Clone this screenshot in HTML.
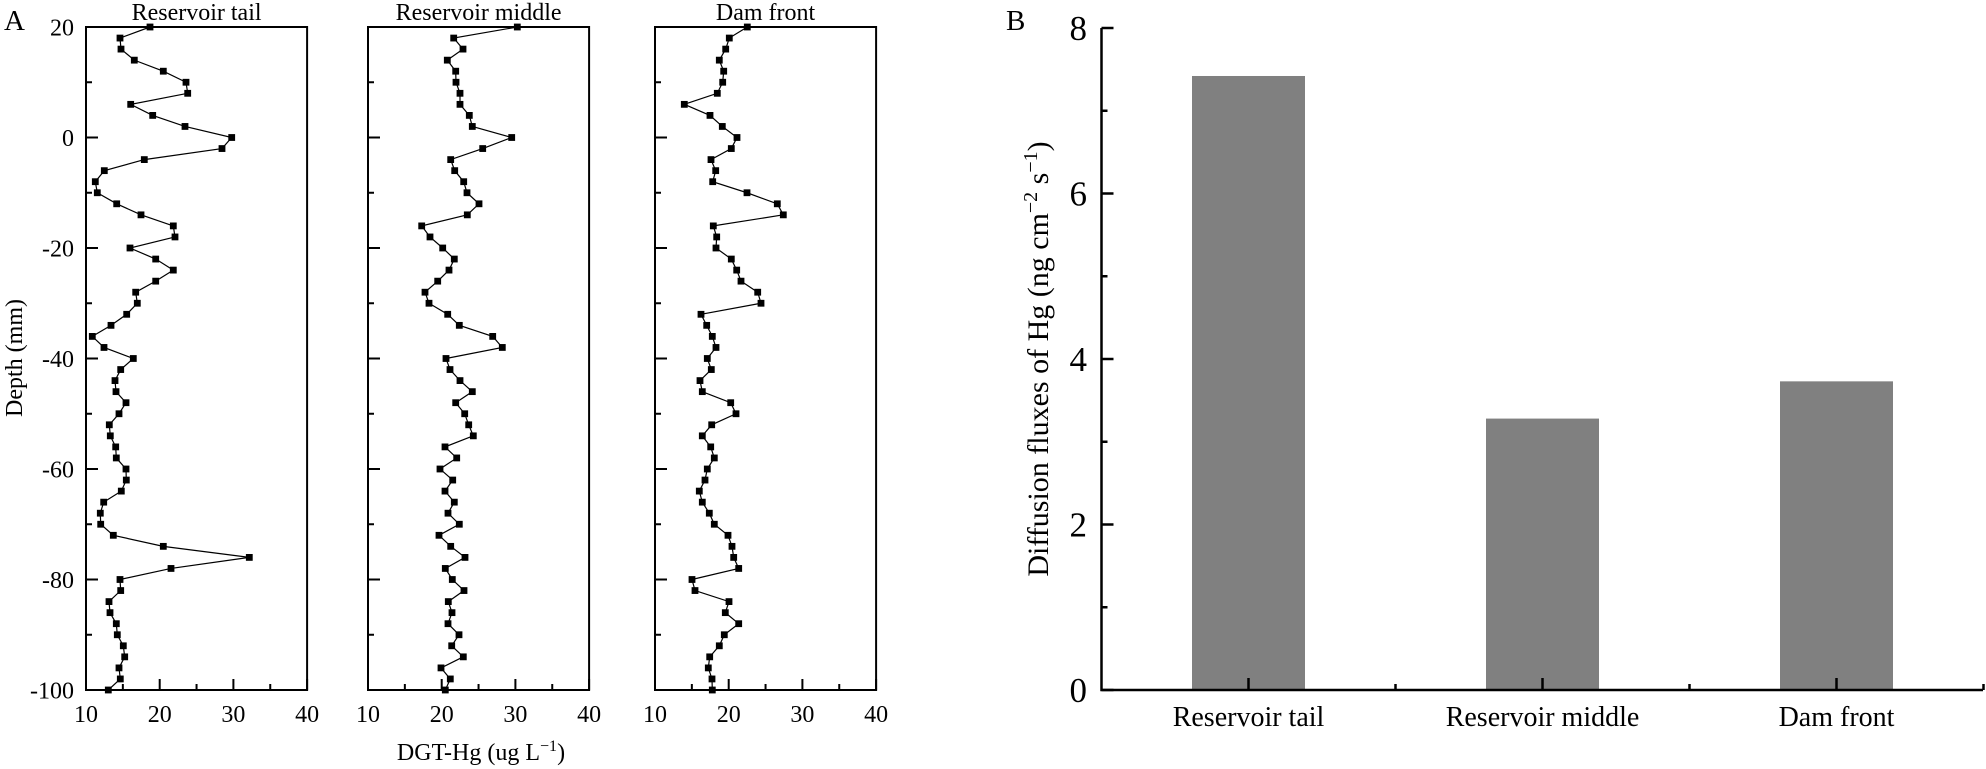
<!DOCTYPE html>
<html><head><meta charset="utf-8"><style>
html,body{margin:0;padding:0;background:#fff;}
svg{display:block;font-family:"Liberation Serif",serif;}
</style></head><body>
<svg id="s" width="1986" height="769" viewBox="0 0 1986 769" xmlns="http://www.w3.org/2000/svg">
<text x="4" y="30" font-size="29">A</text>
<text x="1006" y="30" font-size="29">B</text>
<text transform="translate(22,358) rotate(-90)" text-anchor="middle" font-size="24">Depth (mm)</text>
<text x="481" y="760" text-anchor="middle" font-size="24">DGT-Hg (ug L<tspan font-size="16" dy="-9">−1</tspan><tspan dy="9">)</tspan></text>
<g id="A"></g>
<g id="B"></g>
<text transform="translate(1048,359) rotate(-90)" text-anchor="middle" font-size="30">Diffusion fluxes of Hg (ng cm<tspan font-size="20" dy="-11">−2</tspan><tspan dy="11"> s</tspan><tspan font-size="20" dy="-11">−1</tspan><tspan dy="11">)</tspan></text>
</svg>
<script>
(function(){
var NS="http://www.w3.org/2000/svg";
function el(p,t,a,txt){var e=document.createElementNS(NS,t);for(var k in a)e.setAttribute(k,a[k]);if(txt!==undefined)e.textContent=txt;p.appendChild(e);return e;}
var GA=document.getElementById('A');
var data=[
[150,120,121,134.3,163.3,186,187.7,130.7,152.7,185,231.7,222,144.3,104.3,95.3,97.3,116.7,141,173.3,175,130,155.7,173.3,155.7,135.7,137.3,126.7,111,92.3,104,133.3,120.7,115,116,126,119,109.3,110.3,115.7,116.3,126,126.3,121.3,103.7,100.3,100.7,113.3,163.3,249.3,171,120,120.7,109,110,116.3,117.3,123.3,124.7,119,120.3,108.3],
[517.3,453.7,463,447.3,455.7,456,460,460,469.3,472.3,511.7,482.7,450.7,454.7,463.7,467,479,467.3,421.7,430,442.7,454.3,449,437.7,425,429,447.7,459.3,492.7,502.3,446,450,460,472.3,455.7,464.7,468.7,473.3,445,456.7,440,452.7,445,454.3,448,459.3,439,450.7,465,445.3,452.3,464,448.3,452,448,459,451.7,463.3,441,450.3,445.3],
[747.3,729.3,725.7,719.3,723.7,722.7,717.3,684.3,710,722.3,737,731.3,711,715.7,712.7,747,777.3,783.3,713.3,716.7,716,731.3,736.7,741,757.7,761,701,706.7,712.3,716,707.3,711.3,700,702.3,730.7,736,711.7,702.3,710.7,714.3,707.3,705,699.3,702.3,709.3,714.3,728,732,733.7,738.7,692,695,729,725.3,738.7,724.3,719.3,709.7,708.3,712,712.3]];
var lefts=[86,368,655], titles=["Reservoir tail","Reservoir middle","Dam front"];
var ytop=27,bot=690,ys=5.525,xs=7.37;
lefts.forEach(function(L,i){
  var R=L+30*xs;
  el(GA,'rect',{x:L,y:ytop,width:R-L,height:bot-ytop,fill:'none',stroke:'#000','stroke-width':2});
  el(GA,'text',{x:(L+R)/2,y:20,'text-anchor':'middle','font-size':24},titles[i]);
  for(var v=10;v<=40;v+=5){var x=L+(v-10)*xs;var len=(v%10==0)?11:6;
    el(GA,'line',{x1:x,y1:bot,x2:x,y2:bot-len,stroke:'#000','stroke-width':2});
    if(v%10==0)el(GA,'text',{x:x,y:722,'text-anchor':'middle','font-size':24},String(v));}
  for(var d=20;d>=-100;d-=10){var y=ytop+(20-d)*ys;var l2=(d%20==0)?12:6;
    el(GA,'line',{x1:L,y1:y,x2:L+l2,y2:y,stroke:'#000','stroke-width':2});
    if(i==0&&d%20==0)el(GA,'text',{x:74,y:y+8.5,'text-anchor':'end','font-size':24},String(d));}
  var pts=data[i].map(function(x,k){return [x,ytop+k*2*ys];});
  el(GA,'polyline',{points:pts.map(function(p){return p.join(',');}).join(' '),fill:'none',stroke:'#000','stroke-width':1.2});
  pts.forEach(function(p){el(GA,'rect',{x:p[0]-3.4,y:p[1]-3.4,width:6.8,height:6.8,fill:'#000'});});
});
var GB=document.getElementById('B');
var bx0=1101.5,bx1=1983,by0=690,by8=28,u=(by0-by8)/8,cw=294;
[7.42,3.28,3.73].forEach(function(v,i){var c=bx0+cw*(i+0.5);
  el(GB,'rect',{x:c-56.5,y:by0-v*u,width:113,height:v*u,fill:'#808080'});
  el(GB,'text',{x:c,y:726,'text-anchor':'middle','font-size':28},titles[i]);
  el(GB,'line',{x1:c,y1:by0,x2:c,y2:by0-12,stroke:'#000','stroke-width':2.5});
  var e=bx0+cw*(i+1);el(GB,'line',{x1:e,y1:by0,x2:e,y2:by0-6,stroke:'#000','stroke-width':2.5});
});
for(var v=0;v<=8;v++){var y=by0-v*u;var len=v%2==0?12:6;
  el(GB,'line',{x1:bx0,y1:y,x2:bx0+len,y2:y,stroke:'#000','stroke-width':2.5});
  if(v%2==0)el(GB,'text',{x:1087,y:y+12,'text-anchor':'end','font-size':35},String(v));}
el(GB,'polyline',{points:bx0+','+by8+' '+bx0+','+by0+' '+bx1+','+by0,fill:'none',stroke:'#000','stroke-width':2.5});
})();
</script>
</body></html>
